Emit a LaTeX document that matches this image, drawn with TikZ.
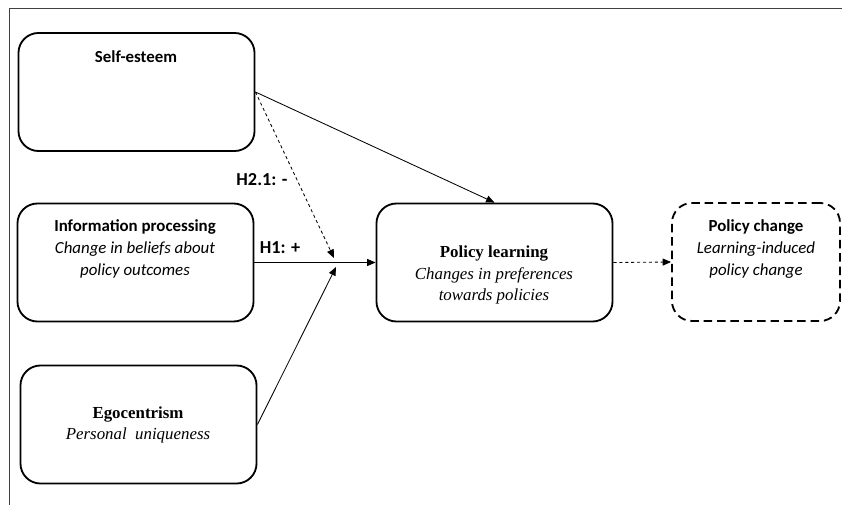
\documentclass[tikz,border=0pt]{standalone}
\usepackage{fontspec}
\setmainfont{Liberation Serif}
\newfontfamily\calibri{Carlito}
\usetikzlibrary{arrows.meta}

\begin{document}
\begin{tikzpicture}[
    x=0.025cm, y=-0.025cm,
    factorbox/.style={
        draw,
        line width=1.3pt,
        rounded corners=0.5cm,
        minimum width=5.9cm,
        minimum height=2.95cm
    },
    outcomebox/.style={factorbox, minimum width=4.2cm, dash pattern=on 6pt off 3.5pt},
    sanstext/.style={font=\calibri\fontsize{12}{15.5}\selectfont, align=center},
    seriftext/.style={font=\fontsize{12}{15.5}\selectfont, align=center},
    hyplabel/.style={font=\calibri\bfseries\fontsize{13}{15}\selectfont},
    linkarrow/.style={-{Triangle[length=6pt,width=5pt]}, line width=0.6pt},
    dashedlink/.style={linkarrow, dash pattern=on 2.2pt off 2pt}
]
\useasboundingbox (0,0) rectangle (842,505);

% Frame
\draw[black!75, line width=1.2pt] (9.5,505) -- (9.5,8.5) -- (842,8.5);

% Boxes
\node[factorbox] (selfest) at (136.5,92) {};
\node[factorbox] (info) at (135.5,262.5) {};
\node[factorbox] (ego) at (138.5,424.5) {};
\node[factorbox] (learn) at (494.5,262.5) {};
\node[outcomebox] (change) at (756,262) {};

% Box texts
\node[sanstext] (selfesttitle) at (136,57) {\textbf{Self-esteem}};
\node[sanstext] (infotext) at (135,249)
    {\textbf{Information processing}\\ \textit{Change\ in beliefs about}\\ \textit{policy outcomes}};
\node[seriftext] (egotext) at (138,425)
    {\textbf{Egocentrism}\\ \textit{Personal\ \ uniqueness}};
\node[seriftext] (learntext) at (494,275)
    {\textbf{Policy learning}\\ \textit{Changes\ in preferences}\\ \textit{towards\ policies}};
\node[sanstext] (changetext) at (756,249)
    {\textbf{Policy change}\\ \textit{Learning-induced}\\ \textit{policy change}};

% Junction
\coordinate (joinup) at (334,258);
\coordinate (joindown) at (336,267);

% Connectors
\draw[linkarrow] (selfest.east) -- (learn.north);
\draw[dashedlink] (selfest.east) -- (joinup);
\draw[linkarrow] (info.east) -- (learn.west);
\draw[linkarrow] (ego.east) -- (joindown);
\draw[dashedlink] (learn.east) -- (change.west);

% Hypotheses
\node[hyplabel] (h21) at (262,180) {H2.1: -};
\node[hyplabel] (h1) at (280,248) {H1: +};

\end{tikzpicture}
\end{document}
